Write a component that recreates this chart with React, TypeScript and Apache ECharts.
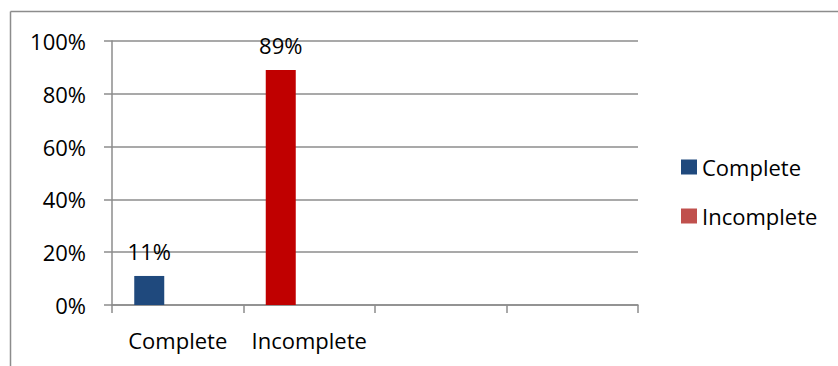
import React, { useEffect, useRef } from "react";
import * as echarts from "echarts";

const categories = ["Complete", "Incomplete", "", ""];
const seriesNames = ["Complete", "Incomplete"];
const values = [0.11, 0.89];
const barColors = ["#1F497D", "#C00000"];
const legendColors = ["#1F497D", "#C0504D"];
const yTicks = [0, 0.2, 0.4, 0.6, 0.8, 1];

const FONT = "Open Sans";
const GRAY = "#8c8c8c";

export default function App() {
  const ref = useRef<HTMLDivElement>(null);
  useEffect(() => {
    if (!ref.current) return;
    const chart = echarts.init(ref.current, undefined, { renderer: "svg" });
    const pct = (v: number) => Math.round(v * 100) + "%";
    const firstData = categories.map((_, i) =>
      i < values.length
        ? { value: values[i], itemStyle: { color: barColors[i] } }
        : null
    );
    chart.setOption({
      animation: false,
      backgroundColor: "#fff",
      textStyle: { fontFamily: FONT },
      grid: { left: 112, top: 41, right: 200, bottom: 61, containLabel: false },
      legend: {
        orient: "vertical",
        left: 681,
        top: 156,
        padding: 0,
        itemWidth: 16,
        itemHeight: 15,
        itemGap: 27,
        icon: "rect",
        data: seriesNames,
        textStyle: { fontFamily: FONT, fontSize: 22, color: "#000", lineHeight: 22 },
      },
      xAxis: {
        type: "category",
        data: categories,
        boundaryGap: true,
        axisLine: { lineStyle: { color: GRAY, width: 1.5 } },
        axisTick: { show: true, length: 8, lineStyle: { color: GRAY, width: 1.5 } },
        axisLabel: { interval: 0, margin: 24, fontSize: 22, color: "#000", fontFamily: FONT },
      },
      yAxis: {
        type: "value",
        min: yTicks[0],
        max: yTicks[yTicks.length - 1],
        interval: 0.2,
        axisLine: { show: true, lineStyle: { color: GRAY, width: 1.5 } },
        axisTick: { show: true, length: 8, lineStyle: { color: GRAY, width: 1.5 } },
        splitLine: { show: true, lineStyle: { color: GRAY, width: 1.5 } },
        axisLabel: {
          margin: 26,
          fontSize: 22,
          color: "#000",
          fontFamily: FONT,
          formatter: (v: number) => pct(v),
        },
      },
      series: [
        {
          name: seriesNames[0],
          type: "bar",
          barWidth: 30,
          barGap: "-5%",
          itemStyle: { color: legendColors[0] },
          label: {
            show: true,
            position: "top",
            distance: 14,
            fontSize: 22,
            color: "#000",
            fontFamily: FONT,
            formatter: (p: any) => pct(p.value),
          },
          data: firstData,
        },
        {
          name: seriesNames[1],
          type: "bar",
          barWidth: 30,
          barGap: "-5%",
          itemStyle: { color: legendColors[1] },
          data: categories.map(() => null),
        },
        {
          name: "spacer",
          type: "bar",
          barWidth: 30,
          barGap: "-5%",
          data: categories.map(() => null),
        },
      ],
      graphic: [
        {
          type: "line",
          shape: { x1: 10.5, y1: 11.5, x2: 840, y2: 11.5 },
          style: { stroke: GRAY, lineWidth: 1.5 },
        },
        {
          type: "line",
          shape: { x1: 10.5, y1: 11.5, x2: 10.5, y2: 370 },
          style: { stroke: GRAY, lineWidth: 1.5 },
        },
      ],
    });
    return () => chart.dispose();
  }, []);
  return (
    <div
      ref={ref}
      style={{ position: "fixed", left: 0, top: 0, width: 838, height: 366, background: "#fff" }}
    />
  );
}
